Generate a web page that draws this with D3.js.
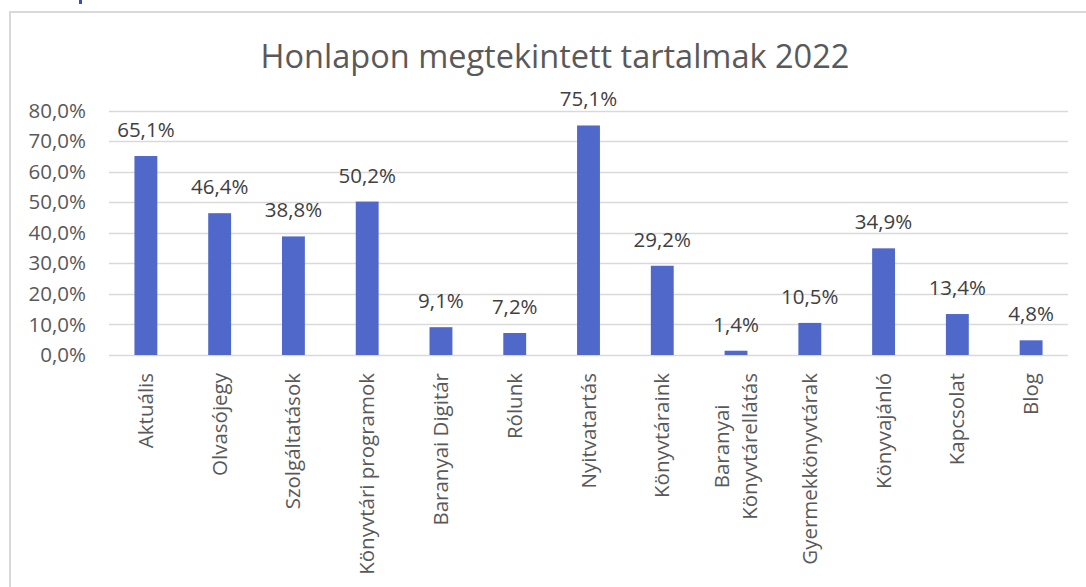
<!DOCTYPE html>
<html>
<head>
<meta charset="utf-8">
<script src="https://cdn.jsdelivr.net/npm/d3@7"></script>
<style>
  html, body { margin: 0; padding: 0; background: #fff; }
  svg { display: block; }
  text { font-family: "Open Sans", sans-serif; }
</style>
</head>
<body>
<svg id="chart" width="1086" height="587"></svg>
<script>
const title = "Honlapon megtekintett tartalmak 2022";
const categories = [
  ["Aktuális"],
  ["Olvasójegy"],
  ["Szolgáltatások"],
  ["Könyvtári programok"],
  ["Baranyai Digitár"],
  ["Rólunk"],
  ["Nyitvatartás"],
  ["Könyvtáraink"],
  ["Baranyai", "Könyvtárellátás"],
  ["Gyermekkönyvtárak"],
  ["Könyvajánló"],
  ["Kapcsolat"],
  ["Blog"]
];
const values = [65.1, 46.4, 38.8, 50.2, 9.1, 7.2, 75.1, 29.2, 1.4, 10.5, 34.9, 13.4, 4.8];
const yTicks = [0, 10, 20, 30, 40, 50, 60, 70, 80];

const svg = d3.select("#chart");
const fmt = v => v.toFixed(1).replace(".", ",") + "%";
const FS = 20.5;

// chart frame
svg.append("rect").attr("x", 10).attr("y", 12).attr("width", 1100).attr("height", 600)
  .attr("fill", "#fff").attr("stroke", "#d9d9d9").attr("stroke-width", 2);

// cropped blue fragment at top
svg.append("rect").attr("x", 79).attr("y", 0).attr("width", 3).attr("height", 4).attr("fill", "#3a4fb8");

const x = d3.scaleBand().domain(d3.range(categories.length)).range([109, 1068]).paddingInner(0.69).paddingOuter(0.345);
const y = d3.scaleLinear().domain([0, 80]).range([355, 110.5]);

// gridlines
svg.append("g").selectAll("line").data(yTicks).join("line")
  .attr("x1", 109).attr("x2", 1068)
  .attr("y1", d => Math.round(y(d)) + 0.5).attr("y2", d => Math.round(y(d)) + 0.5)
  .attr("stroke", "#d9d9d9").attr("stroke-width", 1.5);

// y axis labels
const yAxis = d3.axisLeft(y).tickValues(yTicks).tickFormat(fmt).tickSize(0).tickPadding(0);
const gy = svg.append("g").attr("transform", "translate(86,0)").call(yAxis);
gy.select(".domain").remove();
gy.selectAll("text").attr("font-size", FS).attr("fill", "#595959")
  .style("font-family", '"Open Sans", sans-serif');

// bars
svg.append("g").selectAll("rect").data(values).join("rect")
  .attr("x", (d, i) => x(i)).attr("width", x.bandwidth())
  .attr("y", d => y(d)).attr("height", d => y(0) - y(d))
  .attr("fill", "#4f68c9");

// data labels
svg.append("g").selectAll("text").data(values).join("text")
  .attr("x", (d, i) => x(i) + x.bandwidth() / 2)
  .attr("y", d => y(d) - 19)
  .attr("text-anchor", "middle").attr("font-size", FS).attr("fill", "#404040")
  .text(d => fmt(d));

// x axis labels (rotated)
const xl = svg.append("g");
categories.forEach((lines, i) => {
  const cx = x(i) + x.bandwidth() / 2;
  const n = lines.length;
  const t = xl.append("text")
    .attr("transform", `translate(${cx},373) rotate(-90)`)
    .attr("font-size", FS).attr("fill", "#595959");
  if (n === 1) {
    t.attr("text-anchor", "end").append("tspan").attr("x", 0).attr("y", 7).text(lines[0]);
  } else {
    t.attr("text-anchor", "middle");
    const spans = lines.map((l, j) =>
      t.append("tspan").attr("y", 7 + (j - (n - 1) / 2) * 28).text(l));
    const maxLen = d3.max(spans, s => s.node().getComputedTextLength());
    spans.forEach(s => s.attr("x", -maxLen / 2));
  }
});

// title
svg.append("text").attr("x", 555).attr("y", 68).attr("text-anchor", "middle")
  .attr("font-size", 32.5).attr("fill", "#595959").text(title);
</script>
</body>
</html>
